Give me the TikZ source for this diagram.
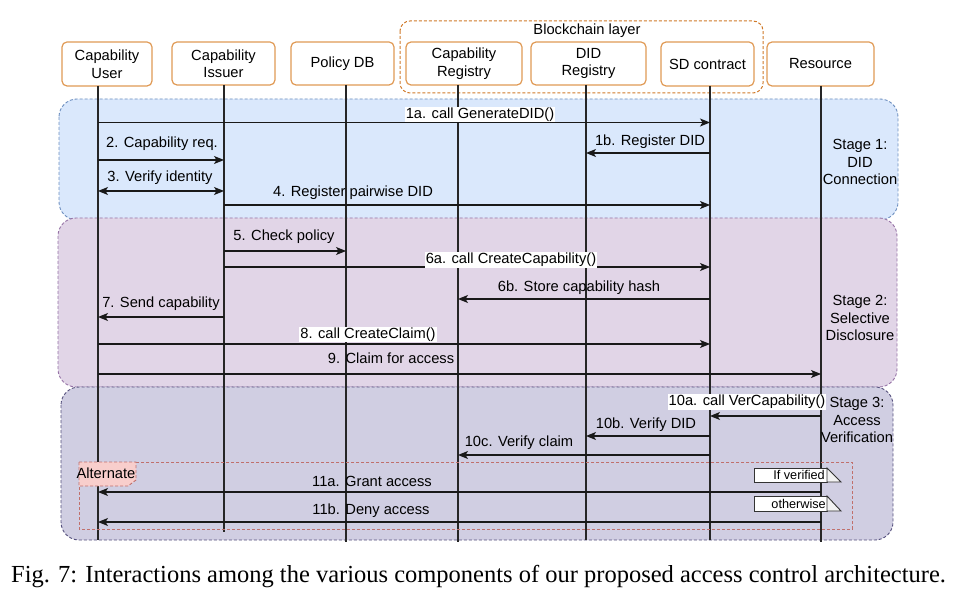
\documentclass[tikz,border=0pt]{standalone}
\usepackage{fontspec}
\setmainfont{Liberation Sans}
\newfontfamily\capfont{Liberation Serif}
\usetikzlibrary{arrows.meta,calc}
\newcommand\diafont{\fontsize{14.7}{17.5}\selectfont}
\newcommand\notefont{\fontsize{12.7}{14}\selectfont}
\definecolor{boxor}{HTML}{E09A55}
\definecolor{bcor}{HTML}{D07A2A}
\definecolor{s1fill}{HTML}{DAE8FC}
\definecolor{s1line}{HTML}{6C8EBF}
\definecolor{s2fill}{HTML}{E1D5E7}
\definecolor{s2line}{HTML}{9673A6}
\definecolor{s3fill}{HTML}{D0CEE2}
\definecolor{s3line}{HTML}{56517E}
\definecolor{altline}{HTML}{C0706C}
\definecolor{altfill}{HTML}{F8CECC}
\begin{document}
\begin{tikzpicture}[x=1pt,y=-1pt,
  hdr/.style={draw=boxor, line width=1.2pt, rounded corners=5pt, fill=white, align=center, font=\diafont, inner sep=0pt, minimum height=43pt},
  stagebox/.style={line width=0.9pt, dash pattern=on 3pt off 2pt, rounded corners=18pt},
  life/.style={line width=1.1pt, draw=black!85},
  msg/.style={line width=1.1pt, draw=black!90, -{Stealth[length=10pt,width=8pt,inset=2.5pt]}},
  lab/.style={font=\diafont, inner sep=1pt},
  wlab/.style={lab, fill=white},
  stagelab/.style={font=\diafont, align=center, inner sep=0pt},
  notebox/.style={draw=black!80, fill=white, line width=0.9pt},
  notefold/.style={draw=black!80, fill=gray!10, line width=0.9pt},
]
\useasboundingbox (0,0) rectangle (971,601);
\fill[white] (0,0) rectangle (971,601);

% stage areas
\draw[stagebox, draw=s1line, fill=s1fill] (59,99) rectangle (898,220);
\draw[stagebox, draw=s2line, fill=s2fill] (58,218) rectangle (897,387);
\draw[stagebox, draw=s3line, fill=s3fill] (61,387) rectangle (893,540);

% blockchain layer
\draw[draw=bcor, line width=1pt, dash pattern=on 3pt off 2pt, rounded corners=10pt] (400,21) rectangle (763,93);
\node[lab] (bcl) at (587,31) {Blockchain layer};

% headers
\node[hdr, minimum width=90pt, minimum height=44pt] (user) at (107,64) {Capability\\User};
\node[hdr, minimum width=103pt] (issuer) at (223.5,63.5) {Capability\\Issuer};
\node[hdr, minimum width=103pt] (pdb) at (342.5,63.5) {Policy DB};
\node[hdr, minimum width=116pt] (creg) at (464,63.5) {Capability\\Registry};
\node[hdr, minimum width=115pt] (dreg) at (588.5,63.5) {DID\\Registry};
\node[hdr, minimum width=93pt, minimum height=44pt] (sd) at (707.5,64) {SD contract};
\node[hdr, minimum width=107pt, minimum height=44pt] (res) at (820.5,64) {Resource};

% lifelines
\coordinate (uL) at (98,86);   \coordinate (uE) at (98,540);
\coordinate (iL) at (224,85);  \coordinate (iE) at (224,532);
\coordinate (pL) at (346,85);  \coordinate (pE) at (346,542);
\coordinate (cL) at (458,85);  \coordinate (cE) at (458,542);
\coordinate (dL) at (586,85);  \coordinate (dE) at (586,540);
\coordinate (sL) at (710,86);  \coordinate (sE) at (710,540);
\coordinate (rL) at (821,86);  \coordinate (rE) at (821,542);
\foreach \a/\b in {uL/uE,iL/iE,pL/pE,cL/cE,dL/dE,sL/sE,rL/rE}
  \draw[life] (\a) -- (\b);

% stage labels
\node[stagelab] (st1) at (860,162) {Stage 1:\\DID\\Connection};
\node[stagelab] (st2) at (860,318) {Stage 2:\\Selective\\Disclosure};
\node[stagelab] (st3) at (857,420) {Stage 3:\\Access\\Verification};

% alternate frame
\draw[altline, line width=0.9pt, dash pattern=on 3pt off 2pt] (79,462) rectangle (852,529);
\draw[altline, fill=altfill, line width=0.9pt, dash pattern=on 3pt off 2pt] (79,462) -- (136,462) -- (136,480) -- (128,486) -- (79,486) -- cycle;
\node[lab, inner sep=0pt] (alt) at (106,473) {Alternate};

% messages
\draw[msg] (uL |- 0,122.5) -- (sL |- 0,122.5);
\node[wlab] (m1a) at (480,114.5) {1a. call GenerateDID()};
\draw[msg] (sL |- 0,153) -- (dL |- 0,153);
\node[lab] (m1b) at (650,142) {1b. Register DID};
\draw[msg] (uL |- 0,160) -- (iL |- 0,160);
\node[lab] (m2) at (162,144) {2. Capability req.};
\draw[msg, {Stealth[length=10pt,width=8pt,inset=2.5pt]}-{Stealth[length=10pt,width=8pt,inset=2.5pt]}] (uL |- 0,191) -- (iL |- 0,191);
\node[lab] (m3) at (160,178) {3. Verify identity};
\draw[msg] (iL |- 0,205) -- (sL |- 0,205);
\node[lab] (m4) at (353,193) {4. Register pairwise DID};

\draw[msg] (iL |- 0,251) -- (pL |- 0,251);
\node[lab] (m5) at (284,237) {5. Check policy};
\draw[msg] (iL |- 0,267) -- (sL |- 0,267);
\node[wlab] (m6a) at (511,260) {6a. call CreateCapability()};
\draw[msg] (sL |- 0,299) -- (cL |- 0,299);
\node[lab] (m6b) at (579,288) {6b. Store capability hash};
\draw[msg] (iL |- 0,317) -- (uL |- 0,317);
\node[lab] (m7) at (161,304) {7. Send capability};
\draw[msg] (uL |- 0,344) -- (sL |- 0,344);
\node[wlab] (m8) at (368,334.5) {8. call CreateClaim()};
\draw[msg] (uL |- 0,374) -- (rL |- 0,374);
\node[lab] (m9) at (391,358) {9. Claim for access};

\draw[msg] (rL |- 0,416) -- (sL |- 0,416);
\node[wlab] (m10a) at (747,402) {10a. call VerCapability()};
\draw[msg] (sL |- 0,436) -- (dL |- 0,436);
\node[lab] (m10b) at (646,425) {10b. Verify DID};
\draw[msg] (sL |- 0,455) -- (cL |- 0,455);
\node[lab] (m10c) at (519,443) {10c. Verify claim};
\draw[msg] (rL |- 0,492) -- (uL |- 0,492);
\node[lab] (m11a) at (372,481) {11a. Grant access};
\draw[msg] (rL |- 0,522) -- (uL |- 0,522);
\node[lab] (m11b) at (371,511) {11b. Deny access};

% guard notes
\draw[notebox] (754,468) rectangle (827,482);
\draw[notefold] (827,468) -- (841,482) -- (827,482) -- cycle;
\node[font=\notefont, anchor=east, inner sep=0pt] (nv) at (825,475) {If verified};
\draw[notebox] (754,496) rectangle (827,511);
\draw[notefold] (827,496) -- (841,511) -- (827,511) -- cycle;
\node[font=\notefont, anchor=east, inner sep=0pt] (no) at (826,503.5) {otherwise};

% caption
\node[anchor=base west, font=\capfont\fontsize{24.5}{29}\selectfont, inner sep=0pt] (cap) at (11,582) {Fig. 7: Interactions among the various components of our proposed access control architecture.};
\end{tikzpicture}
\end{document}
